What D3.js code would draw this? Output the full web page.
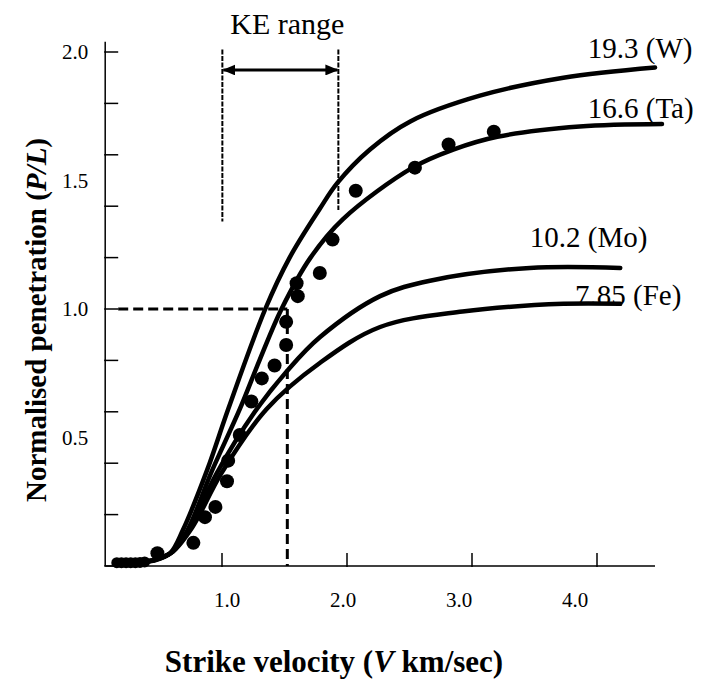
<!DOCTYPE html>
<html><head><meta charset="utf-8">
<script src="https://cdn.jsdelivr.net/npm/d3@7"></script>
<style>
body{margin:0;background:#fff}
text{font-family:"Liberation Serif","Times New Roman",serif;fill:#000}
</style>
</head><body>
<svg id="chart" width="725" height="690" font-family="Liberation Serif"></svg>
<script>
// ---- data ----
const xTickValues = [1, 2, 3, 4];
const xTickLabels = ["1.0", "2.0", "3.0", "4.0"];
const yTickValues = [0, 0.2, 0.4, 0.6, 0.8, 1.0, 1.2, 1.4, 1.6, 1.8, 2.0];
const yLabelValues = [0.5, 1.0, 1.5, 2.0];
const yTickLabels = ["0.5", "1.0", "1.5", "2.0"];

const seriesNames = ["19.3 (W)", "16.6 (Ta)", "10.2 (Mo)", "7.85 (Fe)"];
const vW  = [0.03,0.25,0.38,0.51,0.62,0.83,1.01,1.33,1.54,1.80,1.95,2.23,2.58,3.18,3.90,4.69];
const pW  = [0.016,0.016,0.022,0.05,0.14,0.375,0.61,1.00,1.20,1.39,1.49,1.62,1.73,1.83,1.90,1.94];
const vTa = [0.03,0.25,0.38,0.53,0.66,0.87,1.11,1.28,1.47,1.72,2.00,2.60,2.95,3.33,4.04,4.75];
const pTa = [0.016,0.016,0.024,0.055,0.14,0.37,0.61,0.80,1.00,1.20,1.35,1.55,1.62,1.67,1.71,1.72];
const vMo = [0.03,0.25,0.38,0.53,0.68,0.91,1.24,1.52,1.80,2.32,2.75,3.61,4.39];
const pMo = [0.016,0.016,0.024,0.055,0.15,0.36,0.60,0.76,0.89,1.05,1.11,1.16,1.16];
const vFe = [0.03,0.25,0.38,0.53,0.70,0.95,1.34,1.80,2.32,3.03,3.90,4.39];
const pFe = [0.016,0.016,0.024,0.055,0.15,0.36,0.61,0.79,0.93,0.99,1.02,1.02];

const vExp = [0.05,0.09,0.13,0.17,0.21,0.25,0.29,0.40,0.71,0.81,0.90,1.00,1.01,1.11,1.21,1.30,1.41,1.51,1.51,1.61,1.60,1.80,1.91,2.11,2.62,2.91,3.30];
const pExp = [0.013,0.013,0.013,0.013,0.013,0.014,0.016,0.05,0.09,0.19,0.23,0.33,0.41,0.51,0.64,0.73,0.78,0.86,0.95,1.05,1.10,1.14,1.27,1.46,1.55,1.64,1.69];

const keRange = [0.96, 1.96];
const refV = 1.52, refP = 1.0;

// ---- scales ----
const svg = d3.select("#chart");
svg.append("rect").attr("width",725).attr("height",690).attr("fill","#fff");
const x = d3.scaleLinear().domain([0, 4]).range([111, 575]);
const xTick = d3.scaleLinear().domain([0, 4]).range([97, 597]);
const y = d3.scaleLinear().domain([0, 2]).range([566, 52]);
const x0 = x(-0.05), xEnd = x(4.69);

// ---- axes ----
const ax = svg.append("g").attr("stroke","#000").attr("stroke-width",1.5);
ax.append("line").attr("x1",x0).attr("x2",xEnd).attr("y1",y(0)).attr("y2",y(0));
ax.append("line").attr("x1",x0).attr("x2",x0).attr("y1",y(0)).attr("y2",y(2.04));
ax.selectAll(".yt").data(yTickValues).enter().append("line")
  .attr("x1",x0-1).attr("x2",x0+13).attr("y1",d=>y(d)).attr("y2",d=>y(d));
ax.selectAll(".xt").data(xTickValues).enter().append("line")
  .attr("x1",d=>xTick(d)).attr("x2",d=>xTick(d)).attr("y1",y(0)+1).attr("y2",y(0)-13);

svg.selectAll(".ytl").data(yLabelValues).enter().append("text")
  .attr("x",x0-17).attr("y",d=>y(d)).attr("dy","0.35em").attr("text-anchor","end")
  .attr("font-size",21).text((d,i)=>yTickLabels[i]);
svg.selectAll(".xtl").data(xTickValues).enter().append("text")
  .attr("x",d=>x(d)).attr("y",y(0)+41).attr("text-anchor","middle")
  .attr("font-size",21).text((d,i)=>xTickLabels[i]);

// ---- titles ----
const xt = svg.append("text").attr("x",334).attr("y",672).attr("text-anchor","middle")
  .attr("font-size",31).attr("font-weight","bold");
xt.append("tspan").text("Strike velocity (");
xt.append("tspan").attr("font-style","italic").text("V");
xt.append("tspan").text(" km/sec)");
const yt = svg.append("text").attr("transform","translate(46,320) rotate(-90)")
  .attr("text-anchor","middle").attr("font-size",29).attr("font-weight","bold");
yt.append("tspan").text("Normalised penetration (");
yt.append("tspan").attr("font-style","italic").text("P/L");
yt.append("tspan").text(")");

// ---- reference dashed lines ----
const dash = svg.append("g").attr("stroke","#000").attr("stroke-width",3).attr("stroke-dasharray","10,5");
dash.append("line").attr("x1",x0+13).attr("x2",x(refV)).attr("y1",y(refP)).attr("y2",y(refP));
dash.append("line").attr("x1",x(refV)).attr("x2",x(refV)).attr("y1",y(refP)).attr("y2",y(0));

// ---- KE range ----
const defs = svg.append("defs");
defs.append("marker").attr("id","ah").attr("markerUnits","userSpaceOnUse")
  .attr("markerWidth",13).attr("markerHeight",11).attr("refX",12).attr("refY",5.5)
  .attr("orient","auto-start-reverse")
  .append("path").attr("d","M0,0 L13,5.5 L0,11 Z").attr("fill","#000");
const ke = svg.append("g").attr("stroke","#000");
ke.append("line").attr("x1",x(keRange[0])).attr("x2",x(keRange[0])).attr("y1",y(2.01)).attr("y2",y(1.34))
  .attr("stroke-width",2).attr("stroke-dasharray","5,1.5");
ke.append("line").attr("x1",x(keRange[1])).attr("x2",x(keRange[1])).attr("y1",y(2.01)).attr("y2",y(1.385))
  .attr("stroke-width",2).attr("stroke-dasharray","5,1.5");
ke.append("line").attr("x1",x(keRange[0])+1).attr("x2",x(keRange[1])-1).attr("y1",y(1.93)).attr("y2",y(1.93))
  .attr("stroke-width",3).attr("marker-start","url(#ah)").attr("marker-end","url(#ah)");
svg.append("text").attr("x",x(1.52)).attr("y",y(2.07)).attr("text-anchor","middle")
  .attr("font-size",30).text("KE range");

// ---- curves ----
const line = d3.line().x(d=>x(d[0])).y(d=>y(d[1])).curve(d3.curveCatmullRom.alpha(0.5));
const curves = [[vW,pW],[vTa,pTa],[vMo,pMo],[vFe,pFe]].map(([v,p])=>v.map((vv,i)=>[vv,p[i]]));
svg.append("g").selectAll("path").data(curves).enter().append("path")
  .attr("d",line).attr("fill","none").attr("stroke","#000").attr("stroke-width",4.5)
  .attr("stroke-linecap","round");

// curve labels (anchored in data coordinates)
const labelPos = [[4.11,1.975],[4.11,1.745],[3.61,1.24],[4.0,1.015]];
svg.selectAll(".cl").data(seriesNames).enter().append("text")
  .attr("x",(d,i)=>x(labelPos[i][0])).attr("y",(d,i)=>y(labelPos[i][1]))
  .attr("font-size",29).text(d=>d);

// ---- experimental points ----
svg.append("g").selectAll("circle").data(vExp.map((v,i)=>[v,pExp[i]])).enter().append("circle")
  .attr("cx",d=>x(d[0])).attr("cy",d=>y(d[1])).attr("r",d=>d[1]<0.02?5.5:7).attr("fill","#000");
</script>
</body></html>
